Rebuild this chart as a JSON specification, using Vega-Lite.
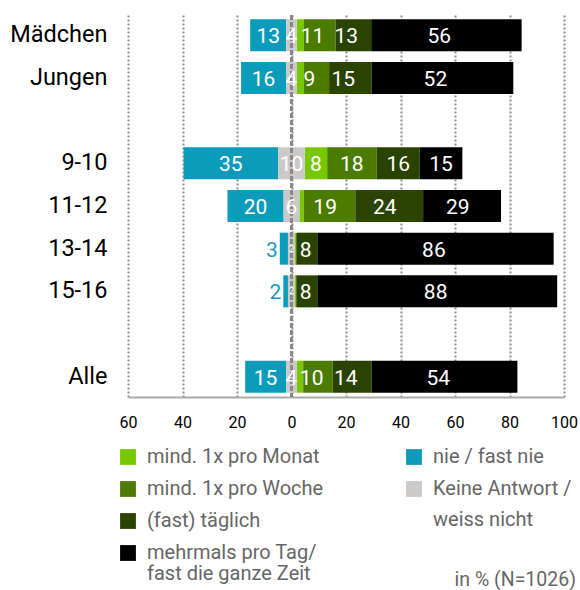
{
  "$schema": "https://vega.github.io/schema/vega-lite/v6.json",
  "width": 436,
  "height": 382,
  "autosize": {"type": "none"},
  "padding": {"left": 128, "top": 15, "right": 16, "bottom": 193},
  "config": {"view": {"stroke": null}, "font": "Roboto"},
  "title": {"text": "in % (N=1026)", "orient": "bottom", "anchor": "end", "frame": "group", "fontSize": 19.5, "fontWeight": "normal", "color": "#666666", "font": "Roboto", "offset": -13, "dx": 12},
  "data": {"values": [
    {"group": "Mädchen", "category": "nie / fast nie", "value": 13.2, "label": "13"},
    {"group": "Mädchen", "category": "Keine Antwort / weiss nicht", "value": 3.9, "label": "4"},
    {"group": "Mädchen", "category": "mind. 1x pro Monat", "value": 2.6, "label": ""},
    {"group": "Mädchen", "category": "mind. 1x pro Woche", "value": 11.6, "label": "11"},
    {"group": "Mädchen", "category": "(fast) täglich", "value": 13.1, "label": "13"},
    {"group": "Mädchen", "category": "mehrmals pro Tag/ fast die ganze Zeit", "value": 55.2, "label": "56"},
    {"group": "Jungen", "category": "nie / fast nie", "value": 16.5, "label": "16"},
    {"group": "Jungen", "category": "Keine Antwort / weiss nicht", "value": 4.0, "label": "4"},
    {"group": "Jungen", "category": "mind. 1x pro Monat", "value": 2.6, "label": ""},
    {"group": "Jungen", "category": "mind. 1x pro Woche", "value": 9.2, "label": "9"},
    {"group": "Jungen", "category": "(fast) täglich", "value": 15.6, "label": "15"},
    {"group": "Jungen", "category": "mehrmals pro Tag/ fast die ganze Zeit", "value": 52.0, "label": "52"},
    {"group": "9-10", "category": "nie / fast nie", "value": 34.7, "label": "35"},
    {"group": "9-10", "category": "Keine Antwort / weiss nicht", "value": 9.8, "label": "10"},
    {"group": "9-10", "category": "mind. 1x pro Monat", "value": 8.2, "label": "8"},
    {"group": "9-10", "category": "mind. 1x pro Woche", "value": 18.1, "label": "18"},
    {"group": "9-10", "category": "(fast) täglich", "value": 15.9, "label": "16"},
    {"group": "9-10", "category": "mehrmals pro Tag/ fast die ganze Zeit", "value": 15.6, "label": "15"},
    {"group": "11-12", "category": "nie / fast nie", "value": 20.6, "label": "20"},
    {"group": "11-12", "category": "Keine Antwort / weiss nicht", "value": 5.8, "label": "6"},
    {"group": "11-12", "category": "mind. 1x pro Monat", "value": 1.6, "label": ""},
    {"group": "11-12", "category": "mind. 1x pro Woche", "value": 18.9, "label": "19"},
    {"group": "11-12", "category": "(fast) täglich", "value": 24.9, "label": "24"},
    {"group": "11-12", "category": "mehrmals pro Tag/ fast die ganze Zeit", "value": 28.6, "label": "29"},
    {"group": "13-14", "category": "nie / fast nie", "value": 3.0, "label": "3"},
    {"group": "13-14", "category": "Keine Antwort / weiss nicht", "value": 2.6, "label": "2"},
    {"group": "13-14", "category": "mind. 1x pro Monat", "value": 0.3, "label": ""},
    {"group": "13-14", "category": "mind. 1x pro Woche", "value": 0.4, "label": ""},
    {"group": "13-14", "category": "(fast) täglich", "value": 7.7, "label": "8"},
    {"group": "13-14", "category": "mehrmals pro Tag/ fast die ganze Zeit", "value": 86.5, "label": "86"},
    {"group": "15-16", "category": "nie / fast nie", "value": 1.7, "label": "2"},
    {"group": "15-16", "category": "Keine Antwort / weiss nicht", "value": 2.6, "label": "2"},
    {"group": "15-16", "category": "mind. 1x pro Monat", "value": 0.3, "label": ""},
    {"group": "15-16", "category": "mind. 1x pro Woche", "value": 0.4, "label": ""},
    {"group": "15-16", "category": "(fast) täglich", "value": 7.7, "label": "8"},
    {"group": "15-16", "category": "mehrmals pro Tag/ fast die ganze Zeit", "value": 87.8, "label": "88"},
    {"group": "Alle", "category": "nie / fast nie", "value": 15.0, "label": "15"},
    {"group": "Alle", "category": "Keine Antwort / weiss nicht", "value": 4.0, "label": "4"},
    {"group": "Alle", "category": "mind. 1x pro Monat", "value": 2.3, "label": ""},
    {"group": "Alle", "category": "mind. 1x pro Woche", "value": 10.8, "label": "10"},
    {"group": "Alle", "category": "(fast) täglich", "value": 14.3, "label": "14"},
    {"group": "Alle", "category": "mehrmals pro Tag/ fast die ganze Zeit", "value": 53.5, "label": "54"}
  ]},
  "transform": [
    {"calculate": "datum.category == 'Keine Antwort / weiss nicht' ? datum.value : 0", "as": "ka"},
    {"joinaggregate": [{"op": "sum", "field": "ka", "as": "kaG"}], "groupby": ["group"]},
    {"calculate": "indexof(['mind. 1x pro Monat','mind. 1x pro Woche','(fast) täglich','mehrmals pro Tag/ fast die ganze Zeit'], datum.category)", "as": "ord"}
  ],
  "layer": [
    {
      "transform": [
        {"filter": "datum.ord >= 0"},
        {"stack": "value", "groupby": ["group"], "sort": [{"field": "ord", "order": "ascending"}], "as": ["s0", "s1"]},
        {"calculate": "datum.s0 + datum.kaG / 2", "as": "x0"},
        {"calculate": "datum.s1 + datum.kaG / 2", "as": "x1"}
      ],
      "mark": {"type": "bar"},
      "encoding": {
        "y": {"field": "group", "type": "nominal", "title": null,
          "scale": {"domain": ["Mädchen", "Jungen", "gap1", "9-10", "11-12", "13-14", "15-16", "gap2", "Alle"], "paddingInner": 0.25, "paddingOuter": 0.1},
          "axis": {"domain": false, "ticks": false, "grid": false, "labelFontSize": 23.5, "labelColor": "#000000", "labelPadding": 21, "labelFont": "Roboto", "labelExpr": "indexof(['gap1','gap2'], datum.value) >= 0 ? '' : datum.value"}},
        "x": {"field": "x0", "type": "quantitative", "title": null,
          "scale": {"domain": [-60, 100], "nice": false, "zero": false},
          "axis": {"values": [-60, -40, -20, 0, 20, 40, 60, 80, 100], "labelExpr": "abs(datum.value)", "labelFlush": false, "grid": true, "gridDash": [2, 2], "gridColor": "#8c8c8c", "gridWidth": 2, "domainColor": "#aaaaaa", "domainWidth": 2, "ticks": false, "labelFontSize": 16, "labelColor": "#000000", "labelPadding": 17, "labelFont": "Roboto"}},
        "x2": {"field": "x1"},
        "color": {"field": "category", "type": "nominal",
          "scale": {"domain": ["mind. 1x pro Monat", "mind. 1x pro Woche", "(fast) täglich", "mehrmals pro Tag/ fast die ganze Zeit"], "range": ["#78c800", "#4b7c00", "#2b4300", "#000000"]},
          "legend": {"orient": "none", "legendX": -10, "legendY": 432, "title": null, "padding": 0, "labelFontSize": 20, "labelColor": "#666666", "labelFont": "Roboto", "symbolType": "square", "symbolSize": 250, "symbolStrokeWidth": 0, "rowPadding": 12, "labelOffset": 9, "labelLimit": 300,
            "labelExpr": "datum.label == 'mehrmals pro Tag/ fast die ganze Zeit' ? ['mehrmals pro Tag/', 'fast die ganze Zeit'] : datum.label",
            "encode": {"labels": {"update": {"lineHeight": {"value": 21}}}}}}
      }
    },
    {
      "transform": [
        {"filter": "datum.ord < 0"},
        {"calculate": "datum.category == 'Keine Antwort / weiss nicht' ? -datum.kaG / 2 : -datum.kaG / 2 - datum.value", "as": "x0"},
        {"calculate": "datum.category == 'Keine Antwort / weiss nicht' ? datum.kaG / 2 : -datum.kaG / 2", "as": "x1"}
      ],
      "mark": {"type": "bar"},
      "encoding": {
        "y": {"field": "group", "type": "nominal"},
        "x": {"field": "x0", "type": "quantitative"},
        "x2": {"field": "x1"},
        "color": {"field": "category", "type": "nominal",
          "scale": {"domain": ["nie / fast nie", "Keine Antwort / weiss nicht"], "range": ["#0b9bbb", "#ccc8c8"]},
          "legend": {"orient": "none", "legendX": 276, "legendY": 432, "title": null, "padding": 0, "labelFontSize": 20, "labelColor": "#666666", "labelFont": "Roboto", "symbolType": "square", "symbolSize": 250, "symbolStrokeWidth": 0, "rowPadding": 12, "labelOffset": 9, "labelLimit": 300,
            "labelExpr": "datum.label == 'Keine Antwort / weiss nicht' ? ['Keine Antwort /', 'weiss nicht'] : datum.label",
            "encode": {"labels": {"update": {"lineHeight": {"value": 31}}}}}}
      }
    },
    {
      "mark": {"type": "rule", "color": "#888888", "strokeWidth": 2, "strokeDash": [5, 2]},
      "encoding": {"x": {"datum": 0, "type": "quantitative"}}
    },
    {
      "transform": [
        {"filter": "datum.ord >= 0 && datum.label != ''"},
        {"stack": "value", "groupby": ["group"], "sort": [{"field": "ord", "order": "ascending"}], "as": ["s0", "s1"]},
        {"calculate": "(datum.s0 + datum.s1) / 2 + datum.kaG / 2", "as": "xm"}
      ],
      "mark": {"type": "text", "color": "white", "fontSize": 21, "font": "Roboto", "dy": 2},
      "encoding": {
        "y": {"field": "group", "type": "nominal"},
        "x": {"field": "xm", "type": "quantitative"},
        "text": {"field": "label"}
      }
    },
    {
      "transform": [
        {"filter": "datum.ord < 0 && datum.label != ''"},
        {"calculate": "datum.category == 'Keine Antwort / weiss nicht' ? -datum.kaG / 2 : -datum.kaG / 2 - datum.value", "as": "x0"},
        {"calculate": "datum.category == 'Keine Antwort / weiss nicht' ? 0 : -datum.kaG / 2 - datum.value / 2", "as": "xm"},
        {"calculate": "datum.category == 'nie / fast nie' && datum.value < 5 ? 'out' : (datum.category == 'Keine Antwort / weiss nicht' && datum.value < 3 ? 'small' : 'in')", "as": "kind"}
      ],
      "layer": [
        {
          "transform": [{"filter": "datum.kind == 'in'"}],
          "mark": {"type": "text", "color": "white", "fontSize": 21, "font": "Roboto", "dy": 2},
          "encoding": {
            "y": {"field": "group", "type": "nominal"},
            "x": {"field": "xm", "type": "quantitative"},
            "text": {"field": "label"}
          }
        },
        {
          "transform": [{"filter": "datum.kind == 'out'"}],
          "mark": {"type": "text", "color": "#1a9bbd", "fontSize": 21, "font": "Roboto", "align": "right", "dx": -2, "dy": 2},
          "encoding": {
            "y": {"field": "group", "type": "nominal"},
            "x": {"field": "x0", "type": "quantitative"},
            "text": {"field": "label"}
          }
        },
        {
          "transform": [{"filter": "datum.kind == 'small'"}],
          "mark": {"type": "text", "color": "white", "fontSize": 9, "font": "Roboto"},
          "encoding": {
            "y": {"field": "group", "type": "nominal"},
            "x": {"field": "xm", "type": "quantitative"},
            "text": {"field": "label"}
          }
        }
      ]
    }
  ],
  "resolve": {"scale": {"color": "independent"}, "legend": {"color": "independent"}}
}
